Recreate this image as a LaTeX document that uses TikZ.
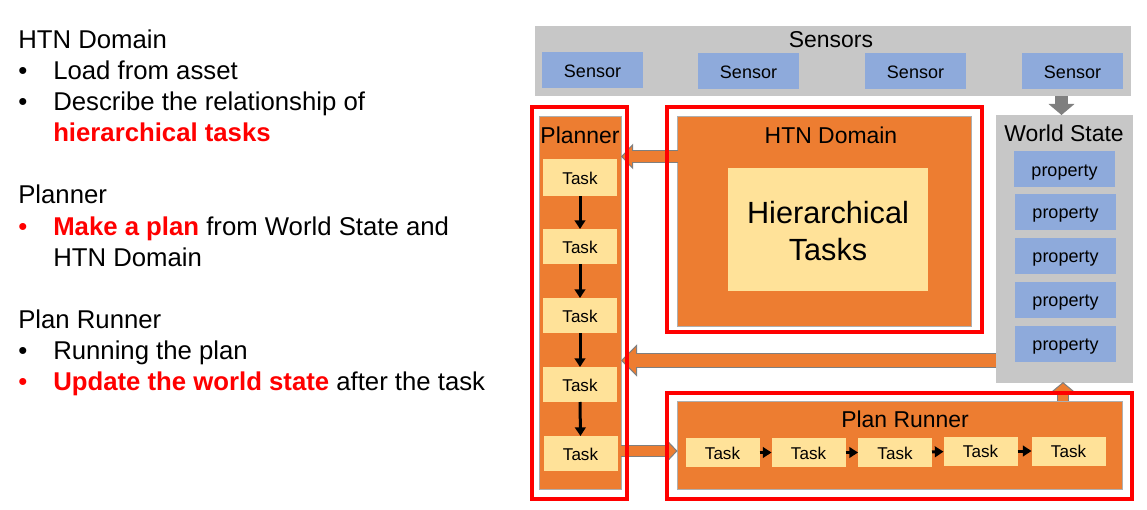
\documentclass[tikz,border=0pt]{standalone}
\usepackage{fontspec}
\setmainfont{Liberation Sans}
\usetikzlibrary{arrows.meta,positioning}
\definecolor{panelgrey}{RGB}{199,199,199}
\definecolor{edgegrey}{RGB}{175,175,175}
\definecolor{blockblue}{RGB}{142,170,219}
\definecolor{blockorange}{RGB}{237,125,49}
\definecolor{taskyellow}{RGB}{255,226,153}
\definecolor{arrowgrey}{RGB}{127,127,127}

\begin{document}
\begin{tikzpicture}[
            x=0.75pt, y=-0.75pt,
            box/.style={rectangle, inner sep=0pt, outer sep=0pt, align=center},
            panel/.style={box, fill=panelgrey},
            orangebox/.style={box, fill=blockorange, draw=edgegrey, line width=0.5pt},
            sensorbox/.style={box, fill=blockblue, minimum width=75.75pt, minimum height=27pt, text height=10.8pt, text depth=0pt, font=\fontsize{13.5}{16}\selectfont},
            taskbox/.style={box, fill=taskyellow, minimum width=55.5pt, minimum height=26.25pt, text height=10.4pt, text depth=0pt, font=\fontsize{12.8}{15}\selectfont},
            redframe/.style={box, draw=red, line width=3pt},
            title/.style={font=\fontsize{17.2}{20}\selectfont, inner sep=0pt},
            body/.style={anchor=base west, inner sep=0pt, font=\fontsize{19.3}{23}\selectfont},
            hot/.style={text=red, font=\fontsize{19.3}{23}\selectfont\bfseries},
            flow/.style={-{Triangle[length=6.5pt,width=8pt]}, line width=2.25pt},
            bigarrow/.style 2 args={draw=arrowgrey, line width=9.5pt,
                -{Triangle[length=#1, width=#2, fill=blockorange, line width=0.75pt]},
                postaction={draw=blockorange, line width=8pt, -, shorten >=#1-1pt}}
        ]
            \useasboundingbox (0,0) rectangle (1147,510);

            % Left column
            \node[body] (t1) at (18,49) {HTN Domain};
            \node[body] (b2) at (18,80) {•};
            \node[body] (t2) at (53,80) {Load from asset};
            \node[body] (b3) at (18,111) {•};
            \node[body] (t3) at (53,111) {Describe the relationship of};
            \node[body, hot] (t4) at (53,142) {hierarchical tasks};
            \node[body] (t5) at (18,204) {Planner};
            \node[body, text=red] (b6) at (18,235) {•};
            \node[body] (t6) at (53,235) {{\bfseries\color{red}Make a plan} from World State and};
            \node[body] (t7) at (53,266) {HTN Domain};
            \node[body] (t8) at (18,328) {Plan Runner};
            \node[body] (b9) at (18,359) {•};
            \node[body] (t9) at (53,359) {Running the plan};
            \node[body, text=red] (b10) at (18,390) {•};
            \node[body] (t10) at (53,390) {{\bfseries\color{red}Update the world state} after the task};

            % Sensors
            \node[panel, minimum width=447pt, minimum height=52.5pt] (sensors) at (833,61) {};
            \node[title] (sensorstitle) at (831,40) {Sensors};
            \node[sensorbox] (sensor1) at (592.5,70) {Sensor};
            \node[sensorbox] (sensor2) at (748.5,71) {Sensor};
            \node[sensorbox] (sensor3) at (915.5,71) {Sensor};
            \node[sensorbox] (sensor4) at (1072.5,71.5) {Sensor};

            % World state
            \node[panel, minimum width=102.75pt, minimum height=201pt] (world) at (1064.5,249) {};
            \node[title] (worldtitle) at (1064,133) {World State};
            \node[sensorbox] (prop1) at (1064.5,169) {property};
            \node[sensorbox] (prop2) at (1065.5,211.5) {property};
            \node[sensorbox] (prop3) at (1065.5,255.5) {property};
            \node[sensorbox] (prop4) at (1065.5,299.5) {property};
            \node[sensorbox] (prop5) at (1065.5,343.5) {property};

            % Planner
            \node[orangebox, minimum width=61.5pt, minimum height=279.75pt] (planner) at (580,302.5) {};
            \node[title] (plannertitle) at (580,135) {Planner};
            \node[taskbox, minimum height=27.75pt] (plan1) at (580,177.5) {Task};
            \node[taskbox] (plan2) at (580,246.5) {Task};
            \node[taskbox] (plan3) at (580,315.5) {Task};
            \node[taskbox] (plan4) at (580,384.5) {Task};
            \node[taskbox] (plan5) at (580.5,453.5) {Task};

            % HTN domain
            \node[orangebox, minimum width=220.5pt, minimum height=157.5pt] (domain) at (824.5,221) {};
            \node[title] (domaintitle) at (831,135) {HTN Domain};
            \node[box, fill=taskyellow, minimum width=150pt, minimum height=92.25pt] (hier) at (828,229.5) {};
            \node[box, font=\fontsize{23}{27.75}\selectfont] (hiertext) at (828,231.5) {Hierarchical\\Tasks};

            % Plan runner
            \node[orangebox, minimum width=333.75pt, minimum height=66pt] (runner) at (899.5,445) {};
            \node[title] (runnertitle) at (905,419) {Plan Runner};
            \node[taskbox, minimum height=21.75pt] (run1) at (722.5,452.5) {Task};
            \node[taskbox, minimum height=21.75pt] (run2) at (808.5,452.5) {Task};
            \node[taskbox, minimum height=21.75pt] (run3) at (895,452.5) {Task};
            \node[taskbox, minimum height=21.75pt] (run4) at (980.5,451) {Task};
            \node[taskbox, minimum height=21.75pt] (run5) at (1068.5,451) {Task};

            % Arrows
            \draw[flow] (plan1.south) -- (plan2.north);
            \draw[flow] (plan2.south) -- (plan3.north);
            \draw[flow] (plan3.south) -- (plan4.north);
            \draw[flow] (plan4.south) -- (plan5.north);
            \draw[flow] (run1) -- (run2);
            \draw[flow] (run2) -- (run3);
            \draw[flow] (run3) -- (run4);
            \draw[flow] (run4) -- (run5);

            \coordinate (sensorout) at (1061.5,96);
            \coordinate (domainout) at (678,156.5);
            \coordinate (domainin) at (621,156.5);
            \coordinate (worldout) at (996,360.5);
            \coordinate (worldin) at (621,360.5);
            \coordinate (planout) at (621,451);
            \coordinate (runin) at (677.5,451);
            \coordinate (runout) at (1063,401);
            \coordinate (runworld) at (1063,382);

            \draw[draw=arrowgrey, line width=9.75pt, -{Triangle[length=8.25pt, width=19pt, fill=arrowgrey]}]
                (sensorout) -- (sensorout |- world.north);
            \draw[bigarrow={9pt}{19pt}] (domainout) -- (domainin);
            \draw[bigarrow={12pt}{24pt}, line width=11.5pt, postaction={draw=blockorange, line width=10pt, -, shorten >=11pt}] (worldout) -- (worldin);
            \draw[bigarrow={9pt}{19pt}] (planout) -- (runin);
            \draw[bigarrow={8pt}{19pt}] (runout) -- (runworld);

            % Red frames
            \node[redframe, minimum width=71.25pt, minimum height=294pt] (planframe) at (579.5,303) {};
            \node[redframe, minimum width=236.25pt, minimum height=168.75pt] (domainframe) at (824.5,219.5) {};
            \node[redframe, minimum width=348.75pt, minimum height=79.5pt] (runframe) at (899.5,446) {};
        \end{tikzpicture}
\end{document}
